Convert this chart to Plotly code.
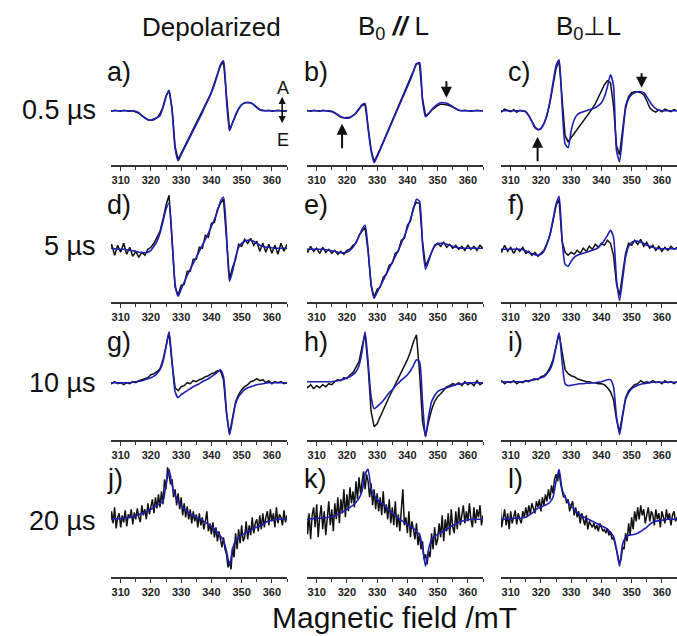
import plotly.graph_objects as go

# ---------------- data ----------------
FIELD = [306 + i for i in range(60)]            # 306 ... 365 mT, 1 mT grid
FIELD_FINE = [306 + 0.5 * i for i in range(119)]  # 306 ... 365 mT, 0.5 mT grid
TICKS = [310, 320, 330, 340, 350, 360]
COL_TITLES = ["Depolarized", "B<sub>0</sub> <b><i>//</i></b> L", "B<sub>0</sub>\u22a5L"]
ROW_TITLES = ["0.5 \u00b5s", "5 \u00b5s", "10 \u00b5s", "20 \u00b5s"]
LETTERS = ["a)", "b)", "c)", "d)", "e)", "f)", "g)", "h)", "i)", "j)", "k)", "l)"]

sim_a = [0, 0, 0, 0, 0, 0, 0, 0, 0, -0.5, -2, -5, -7.5, -9, -9.5, -9, -7, -5, 3, 14,
         20.5, 0, -38, -50, -44, -38, -32, -26, -20, -14, -8, -2, 5, 11, 18, 26, 36, 46, 50, 10,
         -20, -12, -4, 2, 6, 8, 8.5, 8, 6, 3, 1, 0, 0, 0, 0, 0, 0, 0, 0, 0]
exp_a = [0.5, -0.5, 0.5, 0, -0.5, 0.5, 0, -0.5, 0, -1, -2.5, -5, -7, -9, -9.5, -8.5, -7, -3, 4, 15,
         20, 2, -36, -49, -43, -36, -30, -24, -18, -12, -6, 0, 6, 12, 19, 27, 36, 45, 49, 12,
         -19, -12, -4, 2, 6, 8, 8, 8, 6, 3, 1, 0.5, 0, 0.5, -0.5, 0, 0.5, 0, -0.5, 0]

sim_b = [0, 0, 0, 0, 0, 0, 0, 0, 0, -0.5, -2, -4, -6, -7, -7.5, -7, -5, -2, 2, 6,
         7, -18, -40, -52, -46, -39, -32, -25, -18, -11, -4, 3, 10, 17, 24, 31, 39, 47, 48, 10,
         -6, -3, 1, 4, 6.5, 8, 8, 7.5, 6, 4, 2, 0.5, 0, 0, 0, 0, 0, 0, 0, 0]
exp_b = [0.5, 0, -0.5, 0.5, 0, -0.5, 0.5, 0, 0, -1, -2.5, -4.5, -6.5, -7, -7, -6.5, -5, -2.5, 1.5, 5.5,
         6, -17, -39, -51, -45, -38, -31, -24, -17, -10, -3, 4, 11, 18, 25, 32, 40, 47, 47, 12,
         -5, -3, 0.5, 3, 5, 6.5, 6.5, 6, 5, 3.5, 2, 0.5, 0, 0.5, 0, -0.5, 0, 0.5, 0, 0]

sim_c = [0, 0, 0, 0, 0, 0, 0, 0, 0, -1, -5, -11, -17, -19, -18, -13, -4, 10, 28, 45,
         51, 5, -33, -37, -20, -9, -4, -2, -1, 0, 1, 2, 3, 5, 8, 14, 24, 36, 25, -40,
         -51, -25, 2, 12, 16, 18, 19, 19, 18, 14, 9, 5, 2, 0.5, 0, 0, 0, 0, 0, 0]
exp_c = [1, -1, 1.5, 0, -1, 1, -1.5, 0.5, 0, -1, -5, -11, -16, -19, -18, -13, -5, 8, 25, 42,
         50, 10, -25, -31, -27, -23, -19, -15, -11, -7, -3, 2, 7, 13, 19, 26, 30, 28, 5, -35,
         -44, -20, 5, 14, 18, 19, 19, 18, 16, 10, 3, 0, -1.5, 1, -1, 1.5, 0, -1, 1, 0]

sim_d = [1, 1, 0.5, 0, 0, 0, -0.5, -1, -1.5, -2, -3, -3.5, -3.5, -3, -1, 3, 8, 16, 28, 40,
         46, 10, -35, -47, -40, -33, -26, -20, -14, -8, -2, 4, 10, 16, 23, 30, 38, 48, 52, 15,
         -32, -22, -8, 2, 6, 8, 9, 9, 8, 6, 4, 3, 2, 2, 1.5, 1, 1, 1, 1, 1]
exp_d = [-4, 5, -6, 4, -3, 6, -5, 2, -7, -2, -8, -3, -6, 0, 2, 6, 12, 18, 30, 44,
         54, 8, -38, -46, -36, -35, -22, -22, -10, -10, 2, 1, 14, 12, 26, 27, 40, 46, 50, 10,
         -30, -18, -10, 5, 3, 10, 6, 11, 4, 8, -2, 6, -3, 5, -4, 4, -5, 6, -2, 5]

sim_e = [0, 0, 0, 0, 0, 0, 0, -0.5, -1, -1.5, -2, -3, -3.5, -3.5, -3, -1, 2, 7, 13, 20,
         24, 0, -35, -49, -43, -37, -31, -25, -19, -13, -7, -1, 6, 13, 21, 30, 40, 50, 48, 5,
         -20, -12, -3, 3, 5.5, 6, 6, 5, 4, 3, 2, 1.5, 1, 1, 1, 1, 1, 1, 1, 1]
exp_e = [2, -3, 3, -2, 1, -4, 2, -3, 0, -4, -1, -5, -2, -5, -1, 0, 4, 6, 14, 18,
         22, -2, -36, -48, -40, -38, -28, -25, -16, -14, -4, -2, 9, 11, 24, 28, 42, 47, 46, 8,
         -17, -10, -2, 4, 6, 3, 7, 2, 5, 1, 4, 0, 3, -1, 4, 0, 3, -1, 4, 1]

sim_f = [0, 0, 0, 0, 0, 0, 0, 0, -0.5, -1.5, -3, -4.5, -5.5, -6, -5, -2, 5, 15, 30, 45,
         53, 10, -15, -17, -12, -8, -6, -5, -4, -3, -2, -1, 0, 2, 5, 9, 14, 19, 12, -30,
         -51, -30, -8, 3, 7, 8, 8, 7, 6, 4, 3, 2, 1, 0.5, 0.5, 0.5, 0.5, 0.5, 0.5, 0.5]
exp_f = [3, -3, 4, -2, 2, -4, 1, -2, 2, -4, -2, -6, -3, -7, -4, -1, 6, 14, 28, 44,
         50, 8, -3, -6, -3, -5, -1, -4, 1, -2, 3, 0, 5, 2, 6, 4, 9, 6, -6, -35,
         -46, -24, -4, 6, 4, 9, 5, 10, 3, 7, 1, 4, -1, 3, -2, 2, -1, 3, 0, 2]

sim_g = [-1, -1, -1, -1, -1, -1, -1, -1, -0.5, 0, 0.5, 1, 2, 3, 4, 5.5, 8, 12, 20, 35,
         50, 20, -10, -16, -13, -11, -9, -7, -5, -3.5, -2, 0, 1.5, 3, 5, 7, 9.5, 12, 5, -30,
         -53, -38, -22, -15, -11, -8, -6, -5, -4, -3, -2.5, -2, -1.5, -1, -1, -1, -1, -1, -1, -1]
exp_g = [-1, -2, 0, -2, -1, -3, -1, -2, 0, -1, 1, 2, 3, 4, 7, 8, 10, 13, 22, 37,
         49, 18, -6, -9, -5, -4, -1, -2, 1, 0, 2, 3, 5, 6, 8, 9, 11, 11, 2, -32,
         -52, -36, -20, -13, -8, -5, -3, 0, 1, 3, 1, 2, -1, 1, -2, 0, -1, 0, -2, -1]

sim_h = [0, 0, 0, 0, 0, 0, 0, 0, 0, 0, 0.5, 1, 1.5, 2.5, 4, 5, 7, 10, 16, 30,
         50, 20, -15, -27, -25, -22, -19, -15, -11, -8, -4.5, -1.5, 1.5, 4, 7, 11, 16, 22, 20, -20,
         -55, -35, -20, -14, -10, -8, -7, -6, -5, -4, -3, -2.5, -2, -1.5, -1, -1, -1, -1, -1, -1]
exp_h = [-2, -6, -3, -7, -4, -6, -3, -5, -2, -3, 0, 2, 1, 4, 3, 7, 9, 14, 20, 35,
         48, 15, -30, -45, -42, -35, -28, -22, -15, -9, -3, 3, 9, 15, 22, 30, 40, 47, 10, -40,
         -55, -40, -28, -20, -15, -12, -8, -5, -4, -2, -3, -1, -4, 0, -3, -1, -4, 1, -3, -1]

sim_i = [0, 0, 0, 0, 0, 0, 0, 0, 0, 0.5, 1, 1.5, 2, 3, 4, 5, 8, 12, 20, 35,
         49, 20, -2, -4, -3.5, -3, -2.5, -2, -2, -1.5, -1.5, -1, -1, -0.5, 0, 1, 2, 2, -5, -35,
         -53, -35, -18, -11, -7, -5, -3.5, -2.5, -2, -1.5, -1, -0.5, -0.5, -0.5, -0.5, -0.5, -0.5, -0.5, -0.5, -0.5]
exp_i = [-1, 1, -2, 0, -1, 1, -2, 0, -1, 1, 0, 2, 3, 2, 5, 6, 9, 14, 22, 36,
         48, 30, 12, 8, 6, 5, 3, 2, 1, 0, 0, -1, -1, -2, -2, -3, -6, -10, -18, -38,
         -50, -32, -16, -9, -6, -3, -2, 1, -1, 0, -1, 1, -1, 0, -2, 1, -1, 0, -2, 0]

sim_j = [0, 0, 0.5, 0.5, 1, 1, 1.5, 2, 2.5, 3.5, 4.5, 6, 7, 8.5, 10, 12, 14, 16, 18, 35,
         50, 34, 24, 18, 13, 10, 8, 5.5, 3.5, 2, 1, -1, -3, -5, -7, -10, -13, -17, -21, -32,
         -46, -30, -21, -18, -16, -14, -12, -11, -9, -8, -7, -5, -3, -1.5, -1, -0.5, 0, 0, 0, 0]
exp_j = [3, -6, 8, -4, 12, -9, 2, 6, -8, 4, -3, 9, -7, 5, 1, 10, -5, 7, 0, 11,
         2, -3, 14, 4, 10, 0, 16, 5, 13, 20, 6, 22, 11, 25, 12, 28, 15, 40, 30, 52,
         44, 35, 40, 22, 30, 14, 26, 10, 22, 4, 16, 2, 13, 0, 10, -4, 8, -2, 5, -8,
         6, -6, 2, -10, -2, 8, -12, -4, -15, -3, -18, -8, -22, -12, -20, -28, -18, -30, -35, -48,
         -42, -50, -28, -38, -14, -30, -10, -24, -6, -22, -18, -2, -20, -6, -16, 2, -14, -4, 0, -12,
         4, -10, 6, -8, 2, 8, -6, 10, -2, 6, -8, 12, -4, 5, 2, -6, 9, -3, 4]

sim_k = [0, 0, 0.5, 0.5, 1, 1, 1.5, 1.5, 2, 2.5, 3.5, 5, 6.5, 8, 10, 12, 14, 17, 21, 28,
         45, 50, 30, 24, 20, 17, 15, 12, 9, 6, 3.5, 1, -1, -3, -5, -7, -9, -12, -15, -28,
         -47, -30, -20, -17, -15, -13, -12, -10, -8, -6, -5, -3, -2, -1, -0.5, 0, 0, 0, 0, 0]
exp_k = [-5, 10, -15, 6, -20, 4, 12, -8, 15, -18, 2, 14, -10, 8, -16, 5, 18, -6, 10, -12,
         16, 0, 22, -4, 20, 6, 30, 2, 25, 8, 32, 16, 28, 12, 38, 20, 42, 26, 35, 48,
         30, 45, 38, 22, 36, 14, 30, 10, 26, 8, 22, 4, 28, 6, 15, 0, 20, -4, 12, -6,
         18, -8, 5, -12, 10, 30, -6, 2, -14, 8, -18, -2, -10, -20, -4, -26, -14, -30, -22, -40,
         -35, -45, -32, -38, -14, -30, -8, -26, -20, -4, -18, 4, -22, 0, -12, 6, -16, 10, -8, -14,
         8, -10, 12, -6, 4, 14, -4, 8, -2, 16, 0, -8, 12, -4, 10, 2, 14, -6, 4]

sim_l = [0, 0, 0, 0.5, 0.5, 1, 1, 1, 1.5, 2, 4, 6, 8.5, 11, 12, 13.5, 15, 17, 22, 38,
         50, 30, 22, 17, 13, 10, 7, 4.5, 2.5, 1, -0.5, -2, -3.5, -5, -6.5, -8, -10, -13, -17, -30,
         -47, -25, -18, -16, -15.5, -15, -14, -12, -10, -8, -5, -3, -2, -1.5, -1, -0.5, 0, 0, 0, 0]
exp_l = [-2, 15, -8, 4, 10, -6, 6, -10, 8, -4, 2, 9, -5, 6, 0, -4, 8, 2, 12, 3,
         14, 5, 16, 10, 6, 18, 12, 20, 8, 22, 14, 25, 18, 30, 20, 34, 26, 40, 45, 38,
         48, 36, 28, 22, 24, 16, 20, 8, 14, 18, 4, 12, 2, 8, -4, 6, 0, -6, 4, -10,
         -2, -6, -8, -4, -10, -6, -12, -4, -8, -12, -10, -14, -9, -16, -12, -20, -18, -24, -30, -38,
         -44, -40, -28, -30, -14, -22, -4, -16, 2, -10, 8, -2, 12, 0, 14, 4, 10, -4, 6, 12,
         -2, 8, 4, -6, 10, 0, 6, -8, 8, 2, -4, 10, 0, 6, -6, 4, 8, -2, 2]

SIM = [sim_a, sim_b, sim_c, sim_d, sim_e, sim_f, sim_g, sim_h, sim_i, sim_j, sim_k, sim_l]
EXP = [exp_a, exp_b, exp_c, exp_d, exp_e, exp_f, exp_g, exp_h, exp_i, exp_j, exp_k, exp_l]

# ---------------- layout geometry (pixels) ----------------
W, H = 677, 636
COL_X = [(111, 287), (307, 483), (501, 677)]
ROW_AXIS = [165, 302, 440, 577]
ROW_BASE = [110.7, 249.3, 381.7, 519.3]
PANEL_H = 115
XRANGE = [306.8, 365]
BLACK = "#111111"
BLUE = "#1f1fb4"
FONT = "Arial, Liberation Sans, sans-serif"

fig = go.Figure()
layout = dict(width=W, height=H, margin=dict(l=0, r=0, t=0, b=0),
              paper_bgcolor="white", plot_bgcolor="white", showlegend=False)

for k in range(12):
    r, c = divmod(k, 3)
    n = k + 1
    xa = "x" if n == 1 else f"x{n}"
    ya = "y" if n == 1 else f"y{n}"
    ex = EXP[k]
    exx = FIELD_FINE if len(ex) == len(FIELD_FINE) else FIELD
    fig.add_trace(go.Scatter(x=exx, y=ex, mode="lines", xaxis=xa, yaxis=ya,
                             line=dict(color=BLACK, width=1.5)))
    fig.add_trace(go.Scatter(x=FIELD, y=SIM[k], mode="lines", xaxis=xa, yaxis=ya,
                             line=dict(color=BLUE, width=1.6, shape="spline", smoothing=0.6)))
    x0, x1 = COL_X[c]
    ax_px = ROW_AXIS[r]
    off = ax_px - ROW_BASE[r]
    layout["xaxis" if n == 1 else f"xaxis{n}"] = dict(
        domain=[x0 / W, min(x1 / W, 1.0)], range=XRANGE, anchor=ya,
        showline=True, linecolor="#333", linewidth=1.5, mirror=False,
        ticks="outside", tickvals=TICKS, ticklen=4, tickwidth=1.2, tickcolor="#333",
        minor=dict(tickvals=[305, 315, 325, 335, 345, 355, 365], ticklen=3, tickwidth=1, tickcolor="#333", ticks="outside"),
        showgrid=False, zeroline=False,
        tickfont=dict(family=FONT, size=11, color="#222", weight="bold"))
    layout["yaxis" if n == 1 else f"yaxis{n}"] = dict(
        domain=[1 - ax_px / H, 1 - (ax_px - PANEL_H) / H], range=[-off, PANEL_H - off],
        anchor=xa, visible=False, showgrid=False, zeroline=False)

fig.update_layout(**layout)

ann = []
# column titles
for txt, cx in zip(COL_TITLES, [211, 393, 588]):
    ann.append(dict(text=txt, x=cx / W, y=1 - 27 / H, xref="paper", yref="paper",
                    showarrow=False, xanchor="center", yanchor="middle",
                    font=dict(family=FONT, size=26, color="#111")))
# row titles
for txt, cy in zip(ROW_TITLES, [110, 246, 383, 521]):
    ann.append(dict(text=txt, x=98 / W, y=1 - cy / H, xref="paper", yref="paper",
                    showarrow=False, xanchor="right", yanchor="middle",
                    font=dict(family=FONT, size=27, color="#111")))
# panel letters
for k, txt in enumerate(LETTERS):
    r, c = divmod(k, 3)
    lx = [105, 302, 506][c]
    ly = [72, 205, 342, 479][r]
    ann.append(dict(text=txt, x=lx / W, y=1 - ly / H, xref="paper", yref="paper",
                    showarrow=False, xanchor="left", yanchor="middle",
                    font=dict(family=FONT, size=27, color="#111")))
# x-axis title
ann.append(dict(text="Magnetic field /mT", x=395 / W, y=1 - 617 / H, xref="paper", yref="paper",
                showarrow=False, xanchor="center", yanchor="middle",
                font=dict(family=FONT, size=30, color="#111")))

# arrows marking features
arrow = dict(showarrow=True, text="", arrowhead=2, arrowsize=1.1, arrowwidth=2,
             arrowcolor="#111", ax=0)
ann.append(dict(arrow, x=318.4, y=-13, xref="x2", yref="y2", ay=26))
ann.append(dict(arrow, x=352.9, y=13, xref="x2", yref="y2", ay=-18))
ann.append(dict(arrow, x=318.9, y=-26, xref="x3", yref="y3", ay=26))
ann.append(dict(arrow, x=353.3, y=23, xref="x3", yref="y3", ay=-16))
# A / E polarisation indicator in panel a
ann.append(dict(showarrow=True, text="", x=363.4, y=14, xref="x", yref="y", ax=0, ay=28,
                arrowhead=2, startarrowhead=2, arrowside="end+start", arrowsize=0.9,
                arrowwidth=1.6, arrowcolor="#111"))
ann.append(dict(text="A", x=363.6, y=23, xref="x", yref="y", showarrow=False,
                font=dict(family=FONT, size=18, color="#111")))
ann.append(dict(text="E", x=363.6, y=-29, xref="x", yref="y", showarrow=False,
                font=dict(family=FONT, size=18, color="#111")))

fig.update_layout(annotations=ann)
fig.write_html("out.html", config={"displayModeBar": False},
               post_script="document.body.style.margin='0';")
